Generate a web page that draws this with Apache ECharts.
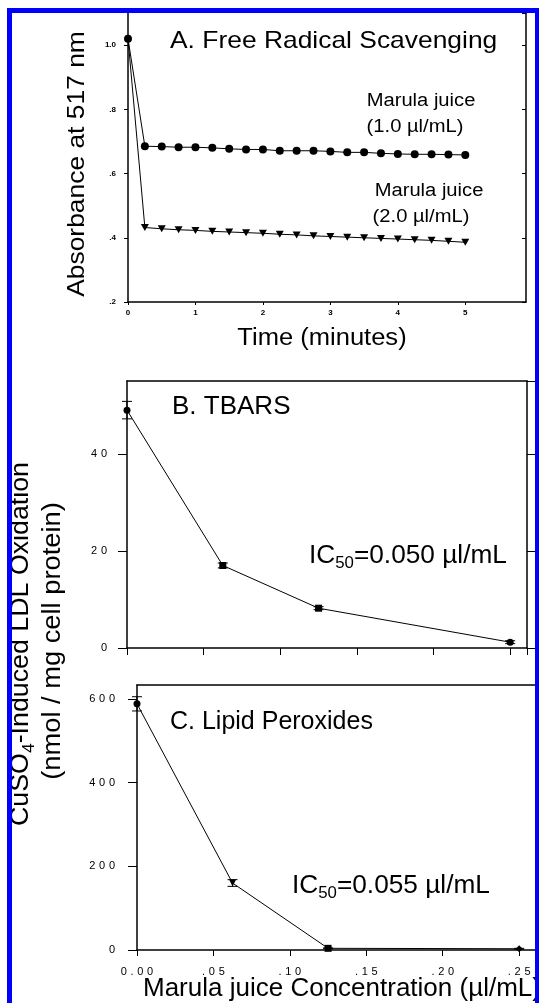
<!DOCTYPE html>
<html>
<head>
<meta charset="UTF-8">
<script src="https://cdn.jsdelivr.net/npm/echarts@6/dist/echarts.min.js"></script>
<style>
  html, body { margin: 0; padding: 0; background: #fff; }
  #main { width: 539px; height: 1003px; }
</style>
</head>
<body>
<div id="main"></div>
<script>
// A. free radical scavenging (absorbance vs time)
var timeA = [0, 0.25, 0.5, 0.75, 1, 1.25, 1.5, 1.75, 2, 2.25, 2.5, 2.75, 3, 3.25, 3.5, 3.75, 4, 4.25, 4.5, 4.75, 5];
var juice1 = [1.02, 0.685, 0.684, 0.682, 0.682, 0.680, 0.677, 0.675, 0.675, 0.671, 0.671, 0.671, 0.669, 0.666, 0.666, 0.663, 0.661, 0.660, 0.660, 0.659, 0.658];
var juice2 = [1.02, 0.432, 0.428, 0.425, 0.423, 0.420, 0.418, 0.416, 0.414, 0.411, 0.409, 0.406, 0.404, 0.402, 0.400, 0.398, 0.396, 0.394, 0.392, 0.389, 0.386];

// B / C. LDL oxidation vs juice concentration
var conc = [0, 0.0625, 0.125, 0.25];
var tbars = [49.0, 17.0, 8.2, 1.2];
var tbarsErr = [1.8, 0.5, 0.3, 0.3];
var tbarsSym = ['circle', 'rect', 'rect', 'circle'];
var lipid = [588, 160, 4, 3];
var lipidErr = [17, 8, 1, 1];
var lipidSym = ['circle', 'triangle', 'rect', 'diamond'];

var FONT = 'Liberation Sans, Arial, sans-serif';
var black = '#000';

function spaced(s) { return s.split('').join('\u2004'); }
function onStep(v, step) { return Math.abs(v / step - Math.round(v / step)) < 1e-6; }

function errBars(params, api) {
  var x = api.value(0), y = api.value(1), e = api.value(2);
  var hi = api.coord([x, y + e]);
  var lo = api.coord([x, y - e]);
  var w = 5;
  var st = { stroke: black, lineWidth: 1 };
  return {
    type: 'group',
    children: [
      { type: 'line', shape: { x1: hi[0], y1: hi[1], x2: lo[0], y2: lo[1] }, style: st },
      { type: 'line', shape: { x1: hi[0] - w, y1: hi[1], x2: hi[0] + w, y2: hi[1] }, style: st },
      { type: 'line', shape: { x1: lo[0] - w, y1: lo[1], x2: lo[0] + w, y2: lo[1] }, style: st }
    ]
  };
}

function txt(x, y, text, size, o) {
  o = o || {};
  return {
    type: 'text', x: x, y: y, z: 50,
    scaleX: o.sx || 1,
    rotation: o.rot || 0,
    style: {
      text: text, fill: black, fontFamily: FONT, fontSize: size,
      align: o.align || 'left', verticalAlign: 'middle',
      rich: o.rich
    }
  };
}

function subRich(size) {
  return {
    n: { fontSize: size, fontFamily: FONT, lineHeight: size + 7, fill: black },
    s: { fontSize: Math.round(size * 0.64), fontFamily: FONT, lineHeight: Math.round(size * 0.64), verticalAlign: 'bottom', fill: black }
  };
}

var axLine = { onZero: false, lineStyle: { color: black, width: 1.5 } };
var yLine = { show: true, onZero: false, lineStyle: { color: black, width: 1.5 } };
var noSplit = { show: false };

var myChart = echarts.init(document.getElementById('main'));
var option = {
  animation: false,
  backgroundColor: '#fff',
  grid: [
    { left: 128, top: 13, width: 398, height: 289, containLabel: false, outerBoundsMode: 'none' },
    { left: 127, top: 381, width: 400, height: 267, containLabel: false, outerBoundsMode: 'none' },
    { left: 137, top: 685, width: 399, height: 265, containLabel: false, outerBoundsMode: 'none' }
  ],
  xAxis: [
    {
      type: 'value', gridIndex: 0, min: 0, max: 5.9, interval: 1,
      axisLine: axLine, splitLine: noSplit,
      axisTick: { length: 3, lineStyle: { color: black } },
      axisLabel: {
        color: black, fontFamily: FONT, fontSize: 8, fontWeight: 'bold', margin: 7,
        showMaxLabel: false,
        formatter: function (v) { return onStep(v, 1) ? String(Math.round(v)) : ''; }
      }
    },
    {
      type: 'value', gridIndex: 1, min: 0, max: 0.261, interval: 0.05,
      axisLine: axLine, splitLine: noSplit,
      axisTick: { length: 7, lineStyle: { color: black } },
      axisLabel: { show: false }
    },
    {
      type: 'value', gridIndex: 1, position: 'top', min: 0, max: 0.261,
      axisLine: axLine, splitLine: noSplit, axisTick: { show: false }, axisLabel: { show: false }
    },
    {
      type: 'value', gridIndex: 2, min: 0, max: 0.261, interval: 0.05,
      axisLine: axLine, splitLine: noSplit,
      axisTick: { length: 6, lineStyle: { color: black } },
      axisLabel: {
        color: black, fontFamily: FONT, fontSize: 11, margin: 16,
        showMaxLabel: false,
        formatter: function (v) {
          if (!onStep(v, 0.05)) return '';
          var s = v.toFixed(2);
          if (v > 0) s = s.replace(/^0/, '');
          return spaced(s);
        }
      }
    },
    {
      type: 'value', gridIndex: 2, position: 'top', min: 0, max: 0.261,
      axisLine: axLine, splitLine: noSplit, axisTick: { show: false }, axisLabel: { show: false }
    }
  ],
  yAxis: [
    {
      type: 'value', gridIndex: 0, min: 0.2, max: 1.1, interval: 0.2,
      axisLine: yLine, splitLine: noSplit,
      axisTick: { length: 4, lineStyle: { color: black } },
      axisLabel: {
        color: black, fontFamily: FONT, fontSize: 8, fontWeight: 'bold', margin: 12,
        showMaxLabel: false,
        formatter: function (v) {
          if (!onStep(v, 0.2)) return '';
          var s = v.toFixed(1);
          return v < 1 ? s.replace(/^0/, '') : s;
        }
      }
    },
    {
      type: 'value', gridIndex: 0, position: 'right', min: 0.2, max: 1.1, interval: 0.2,
      axisLine: yLine, splitLine: noSplit,
      axisTick: { inside: true, length: 4, lineStyle: { color: black } },
      axisLabel: { show: false }
    },
    {
      type: 'value', gridIndex: 1, min: 0, max: 55, interval: 20,
      axisLine: yLine, splitLine: noSplit,
      axisTick: { length: 9, lineStyle: { color: black } },
      axisLabel: {
        color: black, fontFamily: FONT, fontSize: 11, margin: 20,
        showMaxLabel: false,
        formatter: function (v) { return onStep(v, 20) ? spaced(String(Math.round(v))) : ''; }
      }
    },
    {
      type: 'value', gridIndex: 1, position: 'right', min: 0, max: 55, interval: 20,
      axisLine: yLine, splitLine: noSplit,
      axisTick: { length: 10, lineStyle: { color: black } },
      axisLabel: { show: false }
    },
    {
      type: 'value', gridIndex: 2, min: 0, max: 633, interval: 200,
      axisLine: yLine, splitLine: noSplit,
      axisTick: { length: 9, lineStyle: { color: black } },
      axisLabel: {
        color: black, fontFamily: FONT, fontSize: 11, margin: 22,
        showMaxLabel: false,
        formatter: function (v) { return onStep(v, 200) ? spaced(String(Math.round(v))) : ''; }
      }
    },
    {
      type: 'value', gridIndex: 2, position: 'right', min: 0, max: 633, interval: 200,
      axisLine: yLine, splitLine: noSplit,
      axisTick: { length: 8, lineStyle: { color: black } },
      axisLabel: { show: false }
    }
  ],
  series: [
    {
      name: 'Marula juice (2.0 µl/mL)', type: 'line', xAxisIndex: 0, yAxisIndex: 0,
      data: timeA.map(function (t, i) {
        return i === 0 ? { value: [t, juice2[i]], symbol: 'none' } : [t, juice2[i]];
      }),
      symbol: 'triangle', symbolRotate: 180, symbolSize: [8, 7],
      lineStyle: { color: black, width: 1 }, itemStyle: { color: black }, z: 2
    },
    {
      name: 'Marula juice (1.0 µl/mL)', type: 'line', xAxisIndex: 0, yAxisIndex: 0,
      data: timeA.map(function (t, i) { return [t, juice1[i]]; }),
      symbol: 'circle', symbolSize: 8,
      lineStyle: { color: black, width: 1 }, itemStyle: { color: black }, z: 3
    },
    {
      name: 'TBARS', type: 'line', xAxisIndex: 1, yAxisIndex: 2,
      data: conc.map(function (c, i) { return { value: [c, tbars[i]], symbol: tbarsSym[i] }; }),
      symbolSize: 7,
      lineStyle: { color: black, width: 1 }, itemStyle: { color: black }, z: 3
    },
    {
      type: 'custom', xAxisIndex: 1, yAxisIndex: 2, renderItem: errBars,
      encode: { x: 0, y: 1 },
      data: conc.map(function (c, i) { return [c, tbars[i], tbarsErr[i]]; }), z: 4
    },
    {
      name: 'Lipid Peroxides', type: 'line', xAxisIndex: 3, yAxisIndex: 4,
      data: conc.map(function (c, i) {
        return { value: [c, lipid[i]], symbol: lipidSym[i], symbolRotate: lipidSym[i] === 'triangle' ? 180 : 0 };
      }),
      symbolSize: 7,
      lineStyle: { color: black, width: 1 }, itemStyle: { color: black }, z: 3
    },
    {
      type: 'custom', xAxisIndex: 3, yAxisIndex: 4, renderItem: errBars,
      encode: { x: 0, y: 1 },
      data: conc.map(function (c, i) { return [c, lipid[i], lipidErr[i]]; }), z: 4
    }
  ],
  graphic: [
    // blue frame
    { type: 'rect', z: 100, shape: { x: 7, y: 8, width: 5, height: 995 }, style: { fill: '#0000ff' } },
    { type: 'rect', z: 100, shape: { x: 7, y: 8, width: 532, height: 5 }, style: { fill: '#0000ff' } },
    { type: 'rect', z: 100, shape: { x: 535, y: 8, width: 4, height: 995 }, style: { fill: '#0000ff' } },

    txt(170, 41, 'A. Free Radical Scavenging', 24, { sx: 1.1 }),
    txt(421, 101, 'Marula juice', 18, { sx: 1.12, align: 'center' }),
    txt(415, 127, '(1.0 µl/mL)', 18, { sx: 1.12, align: 'center' }),
    txt(429, 191, 'Marula juice', 18, { sx: 1.12, align: 'center' }),
    txt(421, 217, '(2.0 µl/mL)', 18, { sx: 1.12, align: 'center' }),
    txt(77, 164, 'Absorbance at 517 nm', 24, { sx: 1.1, align: 'center', rot: Math.PI / 2 }),
    txt(322, 339, 'Time (minutes)', 23, { sx: 1.11, align: 'center' }),

    txt(172, 407, 'B. TBARS', 25, { sx: 1.04 }),
    txt(309, 556, '{n|IC}{s|50}{n|=0.050 µl/mL}', 25, { sx: 1.05, rich: subRich(25) }),
    txt(170, 722, 'C. Lipid Peroxides', 25, {}),
    txt(292, 886, '{n|IC}{s|50}{n|=0.055 µl/mL}', 25, { sx: 1.05, rich: subRich(25) }),

    txt(21, 644, '{n|CuSO}{s|4}{n|-Induced LDL Oxidation}', 26, { sx: 1.03, align: 'center', rot: Math.PI / 2, rich: subRich(26) }),
    txt(53, 641, '(nmol / mg cell protein)', 26, { sx: 1.05, align: 'center', rot: Math.PI / 2 }),
    txt(143, 989, 'Marula juice Concentration (µl/mL)', 26, {})
  ]
};
myChart.setOption(option);
</script>
</body>
</html>
